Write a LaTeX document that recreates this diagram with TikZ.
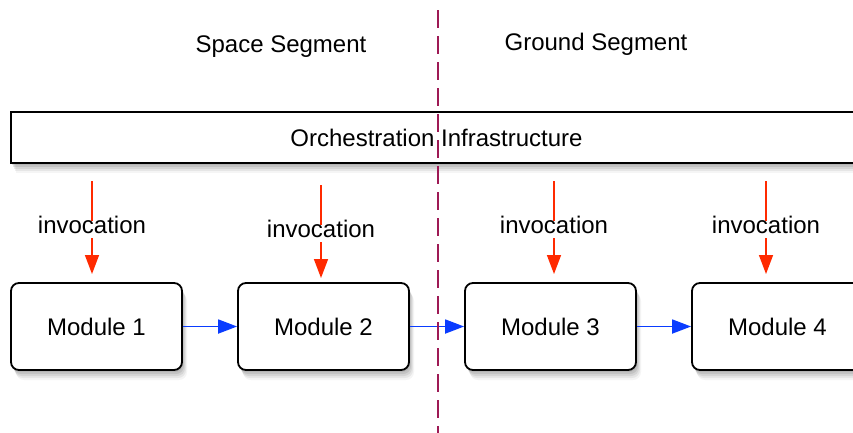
\documentclass[tikz,border=0pt]{standalone}
\usepackage{fontspec}
\setmainfont{Liberation Sans}
\usetikzlibrary{arrows.meta,shadows}
\definecolor{redarrow}{HTML}{FF2A00}
\definecolor{bluearrow}{HTML}{0A3CFF}
\definecolor{divider}{HTML}{9E1A55}
\begin{document}
\begin{tikzpicture}[x=1pt,y=-1pt,
  every node/.style={font=\fontsize{24}{28}\selectfont},
  softshadow/.style={
    drop shadow={shadow xshift=1pt,shadow yshift=-2pt,opacity=.22},
    drop shadow={shadow xshift=2pt,shadow yshift=-4pt,opacity=.20},
    drop shadow={shadow xshift=3pt,shadow yshift=-6pt,opacity=.16},
    drop shadow={shadow xshift=4pt,shadow yshift=-8pt,opacity=.12},
    drop shadow={shadow xshift=5pt,shadow yshift=-10pt,opacity=.08}},
  modbox/.style={draw=black,line width=1.8pt,fill=white,rounded corners=8pt,
    minimum width=171pt,minimum height=87pt,inner sep=0pt,softshadow},
  orchbox/.style={draw=black,line width=1.8pt,fill=white,
    minimum width=851pt,minimum height=51pt,inner sep=0pt,softshadow},
  invlabel/.style={inner xsep=2pt,inner ysep=5pt,text height=0.72em,text depth=0pt},
  invline/.style={draw=redarrow,line width=1.5pt},
  invarrow/.style={invline,-{Triangle[length=19pt,width=14pt]}},
  flowarrow/.style={draw=bluearrow,line width=1.8pt,-{Triangle[length=19pt,width=14pt]}},
  dividerline/.style={draw=divider,line width=2pt,dash pattern=on 18pt off 8pt}
]
\useasboundingbox (0,0) rectangle (853,432);
\clip (0,0) rectangle (853,432);
\fill[white] (0,0) rectangle (853,432);

% segment titles
\node[anchor=base] (space) at (281,52) {Space Segment};
\node[anchor=base] (ground) at (596,50) {Ground Segment};

% orchestration infrastructure
\node[orchbox] (orch) at (436.5,137.5) {Orchestration Infrastructure};

% modules
\node[modbox] (m1) at (96.5,326.5) {Module 1};
\node[modbox] (m2) at (323.5,326.5) {Module 2};
\node[modbox] (m3) at (550.5,326.5) {Module 3};
\node[modbox] (m4) at (777.5,326.5) {Module 4};

% invocation labels
\node[invlabel,anchor=base] (inv1) at (92,233) {invocation};
\node[invlabel,anchor=base] (inv2) at (321,237) {invocation};
\node[invlabel,anchor=base] (inv3) at (554,233) {invocation};
\node[invlabel,anchor=base] (inv4) at (766,233) {invocation};

\coordinate (t1) at (92,181);  \coordinate (a1) at (92,274);
\coordinate (t2) at (321,185); \coordinate (a2) at (321,278);
\coordinate (t3) at (554,181); \coordinate (a3) at (554,274);
\coordinate (t4) at (766,181); \coordinate (a4) at (766,274);

\foreach \i in {1,2,3,4}{
  \draw[invline] (t\i) -- (inv\i.north);
  \draw[invarrow] (inv\i.south) -- (a\i);
}

% data flow
\draw[flowarrow] (m1.east) -- (m2.west);
\draw[flowarrow] (m2.east) -- (m3.west);
\draw[flowarrow] (m3.east) -- (m4.west);

% segment divider
\coordinate (dtop) at (438,10);
\coordinate (dbot) at (438,440);
\draw[dividerline] (dtop) -- (dbot);
\end{tikzpicture}
\end{document}
